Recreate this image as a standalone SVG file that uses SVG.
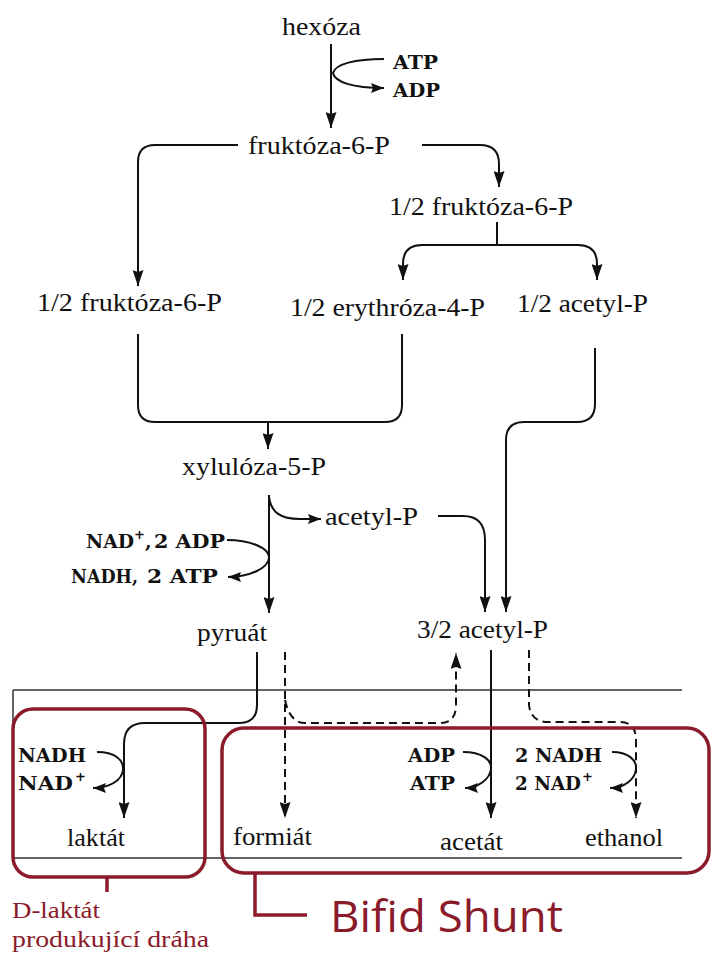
<svg xmlns="http://www.w3.org/2000/svg" width="712" height="954" viewBox="0 0 712 954">
<style>
.s{font-family:"Liberation Serif","Times New Roman",serif;font-size:25px;fill:#111}
.m{font-family:"DejaVu Serif","Liberation Serif",serif;font-size:19px;font-weight:bold;fill:#111}
.sup{font-size:13px}
.c{fill:none;stroke:#111;stroke-width:2}
.d{fill:none;stroke:#111;stroke-width:2;stroke-dasharray:8,5}
.t{fill:none;stroke:#333;stroke-width:1.5}
.r{fill:none;stroke:#8b1a2a;stroke-width:3.5}
.rt{font-family:"Liberation Serif","Times New Roman",serif;font-size:24px;fill:#8b1a2a}
.bs{font-family:"Open Sans","Noto Sans",sans-serif;font-size:43px;fill:#8b1a2a}
</style>
<defs>
<marker id="a" viewBox="0 0 16 11" refX="16" refY="5.5" markerWidth="16" markerHeight="11" orient="auto" markerUnits="userSpaceOnUse">
<path d="M0,0 L16,5.5 L0,11 L2,5.5 z" fill="#111"/>
</marker>
<marker id="b" viewBox="0 0 13 10" refX="13" refY="5" markerWidth="13" markerHeight="10" orient="auto" markerUnits="userSpaceOnUse">
<path d="M0,0 L13,5 L0,10 L2,5 z" fill="#111"/>
</marker>
</defs>

<g id="frame">
<path class="t" d="M13,690 H682 M13,858 H682 M13,690 V858"/>
</g>

<g id="connectors">
<path class="c" d="M331,44 V128" marker-end="url(#a)"/>
<path class="c" d="M384,59 C355,59 335,64 333,73 C335,82 352,88 384,88" marker-end="url(#b)"/>
<path class="c" d="M238,145 H155 Q138,145 138,162 V286" marker-end="url(#a)"/>
<path class="c" d="M422,145 H480 Q499,145 499,164 V187" marker-end="url(#a)"/>
<path class="c" d="M497,222 V245"/>
<path class="c" d="M497,245 H422 Q403,245 403,264 V280" marker-end="url(#a)"/>
<path class="c" d="M497,245 H578 Q597,245 597,264 V280" marker-end="url(#a)"/>
<path class="c" d="M138,334 V405 Q138,422 155,422 H385 Q402,422 402,405 V334"/>
<path class="c" d="M268,422 V449" marker-end="url(#a)"/>
<path class="c" d="M595,348 V404 Q595,422 577,422 H524 Q506,422 506,440 V612" marker-end="url(#a)"/>
<path class="c" d="M269,495 V613" marker-end="url(#a)"/>
<path class="c" d="M269,497 C271,512 280,519 300,519 H321" marker-end="url(#b)"/>
<path class="c" d="M438,516 H463 Q485,516 485,540 V612" marker-end="url(#a)"/>
<path class="c" d="M227,540 C250,540 270,548 269,558 C268,568 250,577 228,577" marker-end="url(#b)"/>
<path class="c" d="M257,652 V705 Q257,723 239,723 H145 Q124,723 124,744 V818" marker-end="url(#a)"/>
<path class="c" d="M97,752 C115,752 124,760 123,770 C122,780 110,788 93,788" marker-end="url(#b)"/>
<path class="d" d="M285,652 V818" marker-end="url(#a)"/>
<path class="d" d="M285,700 Q290,723 305,723 H440 Q456,723 456,705 V653" marker-end="url(#a)"/>
<path class="c" d="M491,650 V818" marker-end="url(#a)"/>
<path class="d" d="M529,650 V705 Q531,722 548,722 H620 Q636,722 636,740 V818" marker-end="url(#a)"/>
<path class="c" d="M463,752 C482,752 492,760 491,769 C490,779 478,788 465,788" marker-end="url(#b)"/>
<path class="c" d="M612,752 C628,752 637,760 636,769 C635,779 625,788 610,788" marker-end="url(#b)"/>
</g>

<g id="hexoza"><text class="s" x="282" y="35" textLength="79" lengthAdjust="spacingAndGlyphs">hexóza</text></g>
<g id="atp-adp-1"><text class="m" x="393" y="69" textLength="45" lengthAdjust="spacingAndGlyphs">ATP</text><text class="m" x="393" y="97" textLength="47" lengthAdjust="spacingAndGlyphs">ADP</text></g>
<g id="fruktoza"><text class="s" x="248" y="154" textLength="142" lengthAdjust="spacingAndGlyphs">fruktóza-6-P</text></g>
<g id="half-fruktoza-right"><text class="s" x="389" y="215" textLength="184" lengthAdjust="spacingAndGlyphs">1/2 fruktóza-6-P</text></g>
<g id="half-fruktoza-left"><text class="s" x="37" y="311" textLength="185" lengthAdjust="spacingAndGlyphs">1/2 fruktóza-6-P</text></g>
<g id="erythroza"><text class="s" x="290" y="316" textLength="195" lengthAdjust="spacingAndGlyphs">1/2 erythróza-4-P</text></g>
<g id="half-acetyl"><text class="s" x="517" y="312" textLength="131" lengthAdjust="spacingAndGlyphs">1/2 acetyl-P</text></g>
<g id="xyluloza"><text class="s" x="182" y="475" textLength="144" lengthAdjust="spacingAndGlyphs">xylulóza-5-P</text></g>
<g id="acetyl"><text class="s" x="325" y="525" textLength="93" lengthAdjust="spacingAndGlyphs">acetyl-P</text></g>
<g id="nad-adp">
<text class="m" y="548"><tspan x="86" textLength="48" lengthAdjust="spacingAndGlyphs">NAD</tspan><tspan class="sup" x="134" y="539">+</tspan><tspan x="145" y="548">,</tspan><tspan x="154" y="548" textLength="71" lengthAdjust="spacingAndGlyphs">2 ADP</tspan></text>
<text class="m" y="583"><tspan x="71" textLength="67" lengthAdjust="spacingAndGlyphs">NADH,</tspan><tspan x="147" y="583" textLength="71" lengthAdjust="spacingAndGlyphs">2 ATP</tspan></text>
</g>
<g id="pyruat"><text class="s" x="197" y="641" textLength="70" lengthAdjust="spacingAndGlyphs">pyruát</text></g>
<g id="acetyl-32"><text class="s" x="417" y="638" textLength="131" lengthAdjust="spacingAndGlyphs">3/2 acetyl-P</text></g>
<g id="nadh-laktat">
<text class="m" x="18" y="762" textLength="68" lengthAdjust="spacingAndGlyphs">NADH</text>
<text class="m" y="790"><tspan x="18" textLength="55" lengthAdjust="spacingAndGlyphs">NAD</tspan><tspan class="sup" x="75" y="781">+</tspan></text>
</g>
<g id="laktat"><text class="s" x="67" y="846" textLength="58" lengthAdjust="spacingAndGlyphs">laktát</text></g>
<g id="formiat"><text class="s" x="233" y="845" textLength="79" lengthAdjust="spacingAndGlyphs">formiát</text></g>
<g id="adp-atp-2">
<text class="m" x="408" y="762" textLength="47" lengthAdjust="spacingAndGlyphs">ADP</text>
<text class="m" x="410" y="790" textLength="45" lengthAdjust="spacingAndGlyphs">ATP</text>
</g>
<g id="acetat"><text class="s" x="440" y="850" textLength="63" lengthAdjust="spacingAndGlyphs">acetát</text></g>
<g id="nadh-ethanol">
<text class="m" x="515" y="762" textLength="87" lengthAdjust="spacingAndGlyphs">2 NADH</text>
<text class="m" y="790"><tspan x="515" textLength="66" lengthAdjust="spacingAndGlyphs">2 NAD</tspan><tspan class="sup" x="582" y="781">+</tspan></text>
</g>
<g id="ethanol"><text class="s" x="585" y="846" textLength="78" lengthAdjust="spacingAndGlyphs">ethanol</text></g>

<g id="d-laktat-box">
<rect class="r" x="13" y="709" width="192" height="168" rx="20"/>
<path class="r" d="M107,877 V892"/>
<text class="rt" x="12" y="918" textLength="88" lengthAdjust="spacingAndGlyphs">D-laktát</text>
<text class="rt" x="12" y="947" textLength="197" lengthAdjust="spacingAndGlyphs">produkující dráha</text>
</g>
<g id="bifid-shunt-box">
<rect class="r" x="222" y="728" width="487" height="145" rx="22"/>
<path class="r" d="M255,873 V915 H307"/>
<text class="bs" x="330" y="932" textLength="233" lengthAdjust="spacingAndGlyphs">Bifid Shunt</text>
</g>
</svg>
